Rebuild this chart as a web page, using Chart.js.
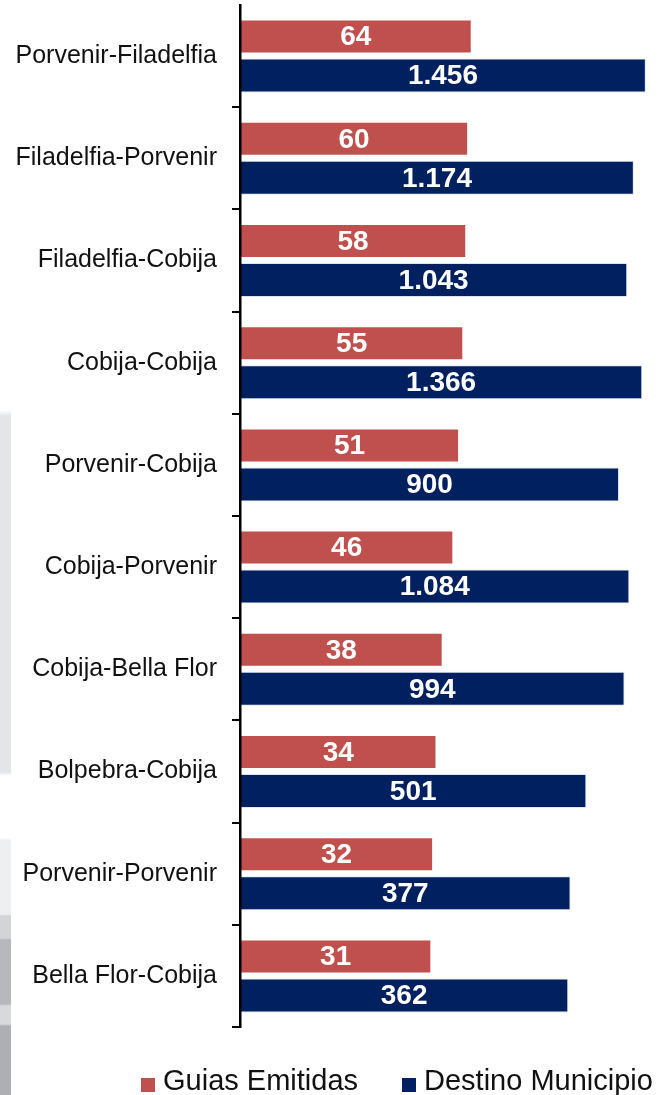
<!DOCTYPE html>
<html>
<head>
<meta charset="utf-8">
<script src="https://cdn.jsdelivr.net/npm/chart.js@4"></script>
<style>
  html, body { margin: 0; padding: 0; background: #fff; overflow: hidden; }
  #wrap { position: relative; width: 659px; height: 1095px; }
  #deco {
    position: absolute; left: 0; top: 0; width: 11px; height: 1095px;
    background: linear-gradient(to bottom,
      #fff 0, #fff 410px, #e4e5e9 416px, #e4e5e9 772px, #fff 776px, #fff 838px,
      #eeeff1 840px, #eeeff1 914px, #d3d4d8 916px, #d3d4d8 938px,
      #b7b8bd 940px, #b7b8bd 1004px, #d8d9dc 1006px, #d8d9dc 1024px,
      #aeafb4 1026px, #aeafb4 1095px);
  }
  canvas { position: absolute; left: 0; top: 0; }
</style>
</head>
<body>
<div id="wrap">
  <div id="deco"></div>
  <canvas id="rutasChart" width="659" height="1095"></canvas>
</div>
<script>
const rutas = [
    'Porvenir-Filadelfia', 'Filadelfia-Porvenir', 'Filadelfia-Cobija', 'Cobija-Cobija',
    'Porvenir-Cobija', 'Cobija-Porvenir', 'Cobija-Bella Flor', 'Bolpebra-Cobija',
    'Porvenir-Porvenir', 'Bella Flor-Cobija'
];
const guiasEmitidas = [64, 60, 58, 55, 51, 46, 38, 34, 32, 31];
const destinoMunicipio = [1456, 1174, 1043, 1366, 900, 1084, 994, 501, 377, 362];

const FONT = 'Liberation Sans, Arial, sans-serif';

function formatNum(v) {
    return String(v).replace(/\B(?=(\d{3})+(?!\d))/g, '.');
}

// Etiquetas blancas centradas en cada barra
const barLabels = {
    id: 'barLabels',
    afterDatasetsDraw(chart) {
        const ctx = chart.ctx;
        ctx.save();
        ctx.font = 'bold 28px ' + FONT;
        ctx.fillStyle = '#ffffff';
        ctx.textAlign = 'center';
        ctx.textBaseline = 'middle';
        chart.data.datasets.forEach((ds, i) => {
            chart.getDatasetMeta(i).data.forEach((bar, j) => {
                ctx.fillText(formatNum(ds.data[j]), (bar.x + bar.base) / 2, bar.y + 1);
            });
        });
        ctx.restore();
    }
};

// Leyenda inferior dibujada a mano
const bottomLegend = {
    id: 'bottomLegend',
    afterDraw(chart) {
        const ctx = chart.ctx;
        const starts = [141, 402];
        ctx.save();
        ctx.font = '29px ' + FONT;
        ctx.textBaseline = 'middle';
        ctx.textAlign = 'left';
        chart.data.datasets.forEach((ds, i) => {
            const x = starts[i];
            ctx.fillStyle = ds.backgroundColor;
            ctx.fillRect(x, 1078, 14, 14);
            ctx.fillStyle = '#111';
            ctx.fillText(ds.label, x + 22, 1082);
        });
        ctx.restore();
    }
};

const ctx = document.getElementById('rutasChart').getContext('2d');

new Chart(ctx, {
    type: 'bar',
    data: {
        labels: rutas,
        datasets: [{
            label: 'Guias Emitidas',
            data: guiasEmitidas,
            backgroundColor: '#C0504D',
            borderColor: 'rgba(255,255,255,0.45)',
            borderWidth: 1,
            categoryPercentage: 0.763,
            barPercentage: 0.872
        }, {
            label: 'Destino Municipio',
            data: destinoMunicipio,
            backgroundColor: '#002060',
            borderColor: 'rgba(200,210,235,0.6)',
            borderWidth: 1,
            categoryPercentage: 0.763,
            barPercentage: 0.872
        }]
    },
    options: {
        indexAxis: 'y',
        responsive: false,
        animation: false,
        layout: {
            padding: { top: 5, bottom: 68, left: 0, right: 0 }
        },
        scales: {
            x: {
                type: 'logarithmic',
                display: false,
                bounds: 'data',
                min: 1,
                max: 1844
            },
            y: {
                grid: {
                    drawOnChartArea: false,
                    drawTicks: true,
                    tickLength: 8,
                    lineWidth: 2,
                    color: (c) => c.index === 0 ? 'rgba(0,0,0,0)' : '#000'
                },
                border: { display: true, color: '#000', width: 2.5, z: 1 },
                ticks: {
                    color: '#111',
                    padding: 15,
                    font: { family: FONT, size: 25 }
                },
                afterFit: (scale) => {
                    scale.width = 240;
                    scale.paddingTop = 0;
                    scale.paddingBottom = 0;
                }
            }
        },
        plugins: {
            legend: { display: false },
            tooltip: { enabled: false }
        }
    },
    plugins: [barLabels, bottomLegend]
});
</script>
</body>
</html>
